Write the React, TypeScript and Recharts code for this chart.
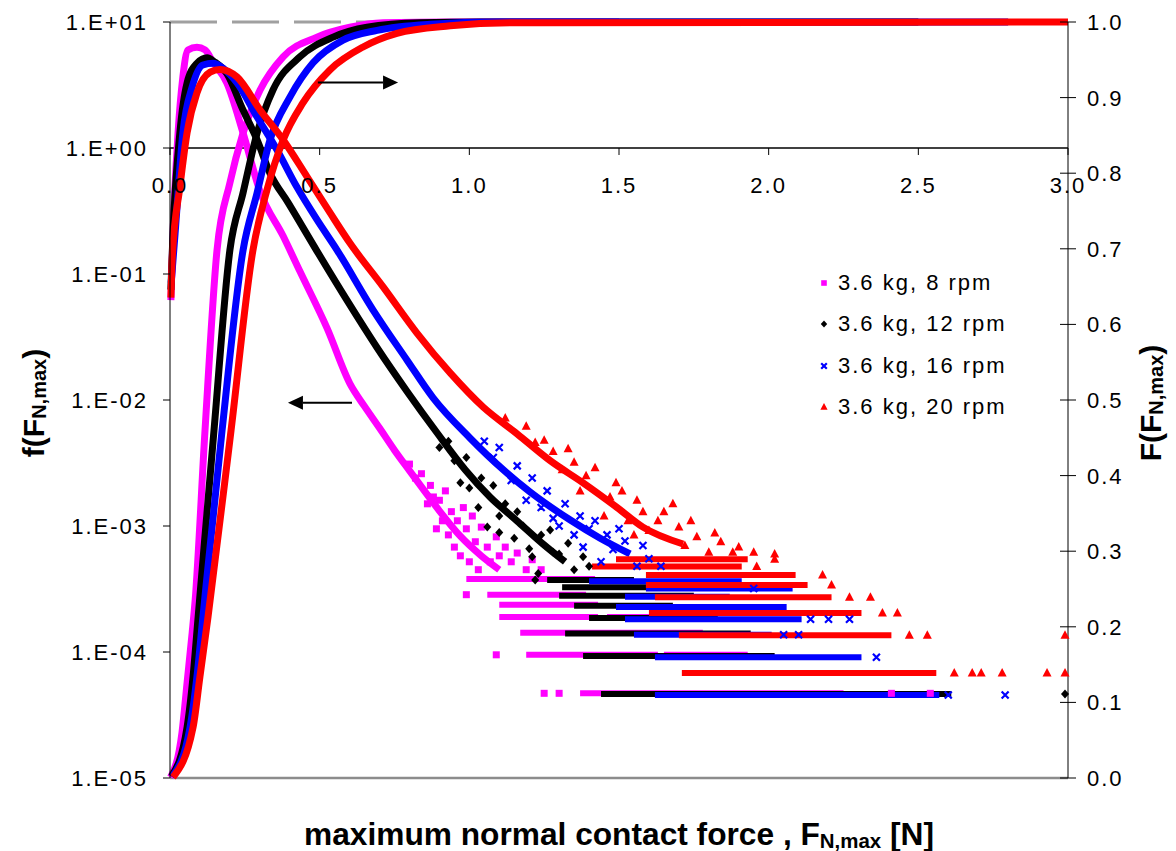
import React from "react";
import { ComposedChart, Legend, Line, ReferenceDot, ReferenceLine, Scatter, XAxis, YAxis } from "recharts";

type P = [number, number];
type Run = [number, number, number];

const FONT = "'Liberation Sans', Arial, Helvetica, sans-serif";

const xTicks = [0, 0.5, 1, 1.5, 2, 2.5, 3];
const xTickLabels = ["0.0", "0.5", "1.0", "1.5", "2.0", "2.5", "3.0"];
const pdfTicks = [1e-5, 1e-4, 1e-3, 1e-2, 1e-1, 1, 10];
const pdfTickLabels = ["1.E-05", "1.E-04", "1.E-03", "1.E-02", "1.E-01", "1.E+00", "1.E+01"];
const cdfTicks = [0, 0.1, 0.2, 0.3, 0.4, 0.5, 0.6, 0.7, 0.8, 0.9, 1];
const cdfTickLabels = ["0.0", "0.1", "0.2", "0.3", "0.4", "0.5", "0.6", "0.7", "0.8", "0.9", "1.0"];

const seriesNames = ["3.6 kg, 8 rpm", "3.6 kg, 12 rpm", "3.6 kg, 16 rpm", "3.6 kg, 20 rpm"];
const seriesColors = ["#ff00ff", "#000000", "#0000ff", "#ff0000"];
const seriesMarkers = ["square", "diamond", "x", "triangle"];

// probability density f(F), left (log) axis
const pdf8: P[] = [[0.003, 0.062], [0.010, 0.21], [0.027, 1.32], [0.043, 3.66], [0.060, 6.0], [0.090, 6.3], [0.117, 6.0], [0.144, 4.8], [0.190, 3.28], [0.244, 1.32], [0.301, 0.45], [0.378, 0.20], [0.434, 0.105], [0.525, 0.037], [0.601, 0.0135], [0.65, 0.0089], [0.70, 0.0060], [0.75, 0.0040], [0.80, 0.00275], [0.85, 0.0019], [0.90, 0.00132], [0.97, 0.00083], [1.04, 0.00058], [1.10, 0.00045]];
const pdf12: P[] = [[0.003, 0.075], [0.010, 0.21], [0.033, 1.32], [0.057, 3.28], [0.090, 4.7], [0.124, 5.2], [0.150, 4.8], [0.190, 3.9], [0.244, 2.0], [0.291, 1.16], [0.334, 0.63], [0.394, 0.37], [0.491, 0.152], [0.591, 0.062], [0.692, 0.026], [0.792, 0.0117], [0.892, 0.0055], [0.986, 0.0028], [1.069, 0.0017], [1.159, 0.0011], [1.246, 0.00072], [1.32, 0.00052]];
const pdf16: P[] = [[0.004, 0.085], [0.017, 0.21], [0.043, 1.32], [0.074, 3.05], [0.110, 4.56], [0.144, 4.7], [0.177, 4.3], [0.224, 3.28], [0.291, 1.76], [0.358, 0.96], [0.424, 0.49], [0.491, 0.27], [0.558, 0.155], [0.678, 0.052], [0.792, 0.0207], [0.879, 0.0104], [1.002, 0.0050], [1.113, 0.0028], [1.203, 0.00186], [1.336, 0.00112], [1.437, 0.0008], [1.537, 0.0006]];
const pdf20: P[] = [[0.003, 0.065], [0.008, 0.14], [0.033, 0.49], [0.057, 1.32], [0.090, 2.74], [0.134, 4.0], [0.167, 4.2], [0.224, 3.66], [0.301, 2.0], [0.378, 1.16], [0.458, 0.59], [0.535, 0.305], [0.601, 0.176], [0.712, 0.079], [0.825, 0.034], [0.936, 0.0164], [1.046, 0.0088], [1.159, 0.0054], [1.270, 0.0033], [1.380, 0.0022], [1.494, 0.0014], [1.580, 0.00098], [1.714, 0.00072]];

// scattered points where the density gets noisy
const cloud8: P[] = [[0.80, 0.0031], [0.82, 0.0024], [0.84, 0.0026], [0.86, 0.0015], [0.87, 0.0021], [0.88, 0.0017], [0.89, 0.00095], [0.90, 0.0016], [0.91, 0.0011], [0.92, 0.0019], [0.93, 0.00085], [0.94, 0.0013], [0.95, 0.00068], [0.96, 0.0011], [0.97, 0.00058], [0.98, 0.0014], [0.99, 0.00095], [1.00, 0.00052], [1.01, 0.0012], [1.02, 0.00075], [1.03, 0.00045], [1.04, 0.00098], [1.06, 0.00068], [1.07, 0.00052], [1.09, 0.00082], [1.10, 0.00058], [1.12, 0.00068], [1.14, 0.00052], [1.16, 0.00061], [1.19, 0.00045], [1.21, 0.00054], [1.24, 0.00045]];
const cloud12: P[] = [[0.90, 0.0042], [0.93, 0.0047], [0.95, 0.0033], [0.97, 0.0022], [0.99, 0.0035], [1.00, 0.0020], [1.03, 0.0014], [1.04, 0.0024], [1.06, 0.00098], [1.08, 0.0021], [1.10, 0.0012], [1.10, 0.00089], [1.12, 0.0015], [1.15, 0.0008], [1.16, 0.0013], [1.18, 0.001], [1.20, 0.00066], [1.21, 0.00057], [1.23, 0.00042], [1.24, 0.00085], [1.27, 0.00093], [1.28, 0.00062], [1.30, 0.0006], [1.33, 0.00073], [1.35, 0.00045], [1.38, 0.00057], [1.40, 0.00048]];
const cloud16: P[] = [[1.05, 0.0047], [1.08, 0.0035], [1.10, 0.0042], [1.14, 0.0023], [1.16, 0.003], [1.19, 0.0016], [1.21, 0.0024], [1.24, 0.0014], [1.26, 0.0019], [1.28, 0.00115], [1.30, 0.001], [1.32, 0.0015], [1.35, 0.00085], [1.37, 0.0012], [1.38, 0.00068], [1.40, 0.00095], [1.42, 0.0011], [1.44, 0.00052], [1.46, 0.00085], [1.48, 0.00065], [1.50, 0.00095], [1.52, 0.00076], [1.56, 0.00048], [1.58, 0.0007], [1.60, 0.00055], [1.64, 0.00048]];
const cloud20: P[] = [[1.12, 0.0072], [1.19, 0.0062], [1.22, 0.0046], [1.25, 0.0048], [1.28, 0.0039], [1.31, 0.0028], [1.33, 0.0041], [1.35, 0.0032], [1.37, 0.0019], [1.39, 0.0025], [1.42, 0.0029], [1.45, 0.0012], [1.47, 0.0017], [1.49, 0.0022], [1.51, 0.0019], [1.53, 0.0011], [1.55, 0.00085], [1.56, 0.0016], [1.58, 0.0013], [1.60, 0.00092], [1.63, 0.0011], [1.65, 0.0013], [1.68, 0.0015], [1.70, 0.00098], [1.72, 0.0007], [1.74, 0.0011], [1.76, 0.00082], [1.80, 0.00062], [1.82, 0.00088], [1.84, 0.00075], [1.88, 0.00062], [1.90, 0.00068], [1.95, 0.00062], [2.02, 0.0006]];

// tail: rows of low-count levels [level, xFrom, xTo]
const rows8: Run[] = [[3.8e-4, 1.00, 1.41], [2.85e-4, 1.07, 1.38], [2.37e-4, 1.11, 1.42], [1.9e-4, 1.11, 1.42], [1.9e-4, 1.47, 1.60], [1.42e-4, 1.18, 1.77], [9.5e-5, 1.20, 1.62], [9.5e-5, 1.66, 1.92], [4.7e-5, 1.38, 2.24]];
const rows12: Run[] = [[3.72e-4, 1.27, 1.54], [3.26e-4, 1.32, 1.60], [2.79e-4, 1.31, 1.74], [2.33e-4, 1.36, 1.67], [1.86e-4, 1.41, 1.82], [1.4e-4, 1.33, 1.93], [9.3e-5, 1.39, 2.01], [4.65e-5, 1.45, 2.60]];
const rows16: Run[] = [[3.65e-4, 1.41, 1.90], [3.19e-4, 1.60, 2.07], [2.74e-4, 1.53, 1.86], [2.28e-4, 1.50, 2.05], [1.82e-4, 1.53, 2.10], [1.37e-4, 1.56, 2.00], [9.1e-5, 1.63, 2.30], [4.56e-5, 1.63, 2.56]];
const rows20: Run[] = [[5.44e-4, 1.50, 1.92], [4.76e-4, 1.42, 1.90], [4.08e-4, 1.60, 2.08], [3.4e-4, 1.60, 2.12], [2.72e-4, 1.63, 2.20], [2.04e-4, 1.61, 2.30], [1.36e-4, 1.71, 2.40], [6.8e-5, 1.72, 2.55]];

// isolated tail points
const lone8: P[] = [[0.99, 2.85e-4], [1.09, 9.5e-5], [1.25, 4.7e-5], [1.30, 4.7e-5], [2.41, 4.7e-5], [2.54, 4.7e-5]];
const lone12: P[] = [[1.22, 3.72e-4], [2.99, 4.65e-5]];
const lone16: P[] = [[2.14, 1.82e-4], [2.20, 1.82e-4], [2.27, 1.82e-4], [2.05, 1.37e-4], [2.10, 1.37e-4], [2.36, 9.1e-5], [2.60, 4.56e-5], [2.79, 4.56e-5], [1.95, 3.19e-4]];
const lone20: P[] = [[2.02, 5.44e-4], [1.96, 4.76e-4], [2.18, 4.08e-4], [2.21, 3.4e-4], [2.27, 2.72e-4], [2.34, 2.72e-4], [2.38, 2.04e-4], [2.43, 2.04e-4], [2.47, 1.36e-4], [2.53, 1.36e-4], [2.99, 1.36e-4], [2.62, 6.8e-5], [2.68, 6.8e-5], [2.71, 6.8e-5], [2.78, 6.8e-5], [2.93, 6.8e-5], [2.99, 6.8e-5]];

// cumulative F(F), right axis
const cdf8: P[] = [[0.002, 0.001], [0.040, 0.06], [0.057, 0.126], [0.074, 0.192], [0.084, 0.235], [0.117, 0.46], [0.157, 0.698], [0.200, 0.787], [0.244, 0.853], [0.301, 0.910], [0.378, 0.954], [0.491, 0.980], [0.601, 0.993], [0.712, 0.999], [0.94, 1.0], [1.5, 1.0]];
const cdf12: P[] = [[0.005, 0.002], [0.057, 0.067], [0.077, 0.134], [0.094, 0.213], [0.147, 0.46], [0.200, 0.698], [0.244, 0.774], [0.291, 0.853], [0.344, 0.910], [0.434, 0.954], [0.545, 0.980], [0.658, 0.993], [0.835, 0.999], [1.04, 1.0], [2.5, 1.0]];
const cdf16: P[] = [[0.008, 0.002], [0.067, 0.067], [0.090, 0.134], [0.110, 0.213], [0.174, 0.46], [0.244, 0.698], [0.291, 0.774], [0.334, 0.844], [0.401, 0.901], [0.478, 0.946], [0.578, 0.976], [0.692, 0.989], [0.869, 0.997], [1.10, 1.0], [2.8, 1.0]];
const cdf20: P[] = [[0.010, 0.001], [0.077, 0.067], [0.100, 0.134], [0.127, 0.213], [0.204, 0.46], [0.277, 0.698], [0.324, 0.778], [0.378, 0.844], [0.444, 0.893], [0.535, 0.937], [0.645, 0.967], [0.758, 0.985], [0.936, 0.995], [1.136, 0.999], [3.0, 1.0]];

const arrowToCdf: P[] = [[0.494, 0.92], [0.762, 0.92]];
const arrowToPdf: P[] = [[0.608, 0.0095], [0.394, 0.0095]];
const xTickDrop = 0.88;

const series = [
  { name: seriesNames[0], color: seriesColors[0], marker: seriesMarkers[0], pdf: pdf8, cloud: cloud8, rows: rows8, lone: lone8, cdf: cdf8 },
  { name: seriesNames[1], color: seriesColors[1], marker: seriesMarkers[1], pdf: pdf12, cloud: cloud12, rows: rows12, lone: lone12, cdf: cdf12 },
  { name: seriesNames[2], color: seriesColors[2], marker: seriesMarkers[2], pdf: pdf16, cloud: cloud16, rows: rows16, lone: lone16, cdf: cdf16 },
  { name: seriesNames[3], color: seriesColors[3], marker: seriesMarkers[3], pdf: pdf20, cloud: cloud20, rows: rows20, lone: lone20, cdf: cdf20 },
];

const pts = (a: P[]) => a.map(([x, y]) => ({ x, y }));

function Mark({ kind, cx, cy, color, s = 1 }: { kind: string; cx: number; cy: number; color: string; s?: number }) {
  if (kind === "square") return <rect x={cx - 3.5 * s} y={cy - 3.5 * s} width={7 * s} height={7 * s} fill={color} />;
  if (kind === "diamond") return <polygon points={`${cx},${cy - 4.5 * s} ${cx + 4 * s},${cy} ${cx},${cy + 4.5 * s} ${cx - 4 * s},${cy}`} fill={color} />;
  if (kind === "x") return <path d={`M${cx - 3.5 * s},${cy - 3.5 * s}L${cx + 3.5 * s},${cy + 3.5 * s}M${cx + 3.5 * s},${cy - 3.5 * s}L${cx - 3.5 * s},${cy + 3.5 * s}`} stroke={color} strokeWidth={2.2} />;
  return <polygon points={`${cx},${cy - 5 * s} ${cx + 4.5 * s},${cy + 3.5 * s} ${cx - 4.5 * s},${cy + 3.5 * s}`} fill={color} />;
}

function arrowShape(props: any) {
  const { x1, y1, x2, y2 } = props;
  const dir = x2 > x1 ? 1 : -1;
  const hx = x2 - dir * 15;
  return <g>
    <line x1={x1} y1={y1} x2={hx} y2={y2} stroke="#000" strokeWidth={2} />
    <polygon points={`${x2},${y2} ${hx},${y2 - 7} ${hx},${y2 + 7}`} fill="#000" />
  </g>;
}

function RightTick(props: any) {
  const { x, y, payload } = props;
  return <g>
    <line x1={x - 8} x2={x + 8} y1={y} y2={y} stroke="#000" />
    <text x={x + 19} y={y} dy="0.36em" fontSize={22} letterSpacing={2} fontFamily={FONT} fill="#000">{cdfTickLabels[cdfTicks.indexOf(payload.value)]}</text>
  </g>;
}

function YTitle({ viewBox, main, dx }: any) {
  const x = viewBox.x + dx;
  const y = viewBox.y + viewBox.height / 2 + 3;
  return <text x={x} y={y} transform={`rotate(-90 ${x} ${y})`} textAnchor="middle" dominantBaseline="central" fontFamily={FONT} fontWeight="bold" fontSize={30} fill="#000">
    {main}<tspan fontSize={20} dy={6}>N,max</tspan><tspan dy={-6}>)</tspan>
  </text>;
}

function XTickText({ viewBox, text }: any) {
  return <text x={viewBox.x} y={viewBox.y + 37} textAnchor="middle" dominantBaseline="central" fontSize={22} letterSpacing={2} fontFamily={FONT} fill="#000">{text}</text>;
}

function XTitle({ viewBox }: any) {
  return <text x={viewBox.x} y={viewBox.y + 56} textAnchor="middle" dominantBaseline="central" textLength={630} lengthAdjust="spacingAndGlyphs" fontFamily={`'Liberation Sans Narrow', ${FONT}`} fontWeight="bold" fontSize={31} fill="#000">
    maximum normal contact force , F<tspan fontSize={20} dy={7}>N,max</tspan><tspan dy={-7}> [N]</tspan>
  </text>;
}

function LegendBox() {
  return <div style={{ fontFamily: FONT, fontSize: 22, letterSpacing: 2, color: "#000" }}>
    {series.map((s) => <div key={s.name} style={{ display: "flex", alignItems: "center", height: 41.5 }}>
      <svg width={12} height={12}><Mark kind={s.marker} cx={6} cy={6} color={s.color} s={0.8} /></svg>
      <span style={{ marginLeft: 8, whiteSpace: "nowrap" }}>{s.name}</span>
    </div>)}
  </div>;
}

export default function App() {
  const marks = series.flatMap((s, i) => [
    <Line key={`pdf${i}`} yAxisId="left" data={pts(s.pdf)} dataKey="y" type="monotone" stroke={s.color} strokeWidth={7} dot={false} activeDot={false} legendType="none" isAnimationActive={false} />,
    <Scatter key={`cloud${i}`} yAxisId="left" data={pts(s.cloud)} dataKey="y" legendType="none" isAnimationActive={false} shape={(p: any) => <Mark kind={s.marker} cx={p.cx} cy={p.cy} color={s.color} />} />,
    ...s.rows.map(([level, from, to], j) => <Line key={`row${i}-${j}`} yAxisId="left" data={[{ x: from, y: level }, { x: to, y: level }]} dataKey="y" stroke={s.color} strokeWidth={6} strokeLinecap="square" dot={false} activeDot={false} legendType="none" isAnimationActive={false} />),
    <Scatter key={`lone${i}`} yAxisId="left" data={pts(s.lone)} dataKey="y" legendType="none" isAnimationActive={false} shape={(p: any) => <Mark kind={s.marker} cx={p.cx} cy={p.cy} color={s.color} />} />,
    <Line key={`cdf${i}`} yAxisId="right" data={pts(s.cdf)} dataKey="y" type="monotone" stroke={s.color} strokeWidth={7} dot={false} activeDot={false} legendType="none" isAnimationActive={false} />,
  ]);

  return <div style={{ position: "absolute", left: 0, top: 0, width: 1176, height: 851, background: "#fff" }}>
    <ComposedChart width={1176} height={851} margin={{ top: 22, right: 0, bottom: 73, left: 0 }}>
      <XAxis xAxisId={0} type="number" dataKey="x" domain={[0, 3]} ticks={xTicks} hide />
      <YAxis yAxisId="left" scale="log" domain={[1e-5, 10]} ticks={pdfTicks} interval={0} width={170}
        tickFormatter={(v: number) => pdfTickLabels[pdfTicks.indexOf(v)]}
        tick={{ fill: "#000", fontSize: 22, fontFamily: FONT, letterSpacing: 2 }} tickSize={7} tickMargin={15}
        tickLine={{ stroke: "#000" }} axisLine={{ stroke: "#000" }}
        label={<YTitle main="f(F" dx={33} />} />
      <YAxis yAxisId="right" orientation="right" domain={[0, 1]} ticks={cdfTicks} interval={0} width={108}
        tick={<RightTick />} tickSize={0} tickMargin={0} tickLine={false} axisLine={{ stroke: "#000" }}
        label={<YTitle main="F(F" dx={82} />} />
      <ReferenceLine yAxisId="left" y={10} stroke="#a0a0a0" strokeWidth={3} strokeDasharray="47 15" />
      <ReferenceLine yAxisId="left" y={1e-5} stroke="#8c8c8c" strokeWidth={2.5} />
      <ReferenceLine yAxisId="left" y={1} stroke="#000" strokeWidth={1.3} />
      {xTicks.map((t) => <ReferenceLine key={`xt${t}`} yAxisId="left" segment={[{ x: t, y: 1 }, { x: t, y: xTickDrop }]} stroke="#000" />)}
      {xTicks.map((t, i) => <ReferenceDot key={`xl${t}`} yAxisId="left" x={t} y={1} r={0} fill="none" stroke="none" label={<XTickText text={xTickLabels[i]} />} />)}
      <ReferenceDot yAxisId="left" x={1.5} y={1e-5} r={0} fill="none" stroke="none" label={<XTitle />} />
      {marks}
      <ReferenceLine yAxisId="right" segment={pts(arrowToCdf)} shape={arrowShape} />
      <ReferenceLine yAxisId="left" segment={pts(arrowToPdf)} shape={arrowShape} />
      <Legend layout="vertical" align="center" verticalAlign="middle" wrapperStyle={{ left: 818, top: 262, width: 240, height: 170 }} content={() => <LegendBox />} />
    </ComposedChart>
  </div>;
}
